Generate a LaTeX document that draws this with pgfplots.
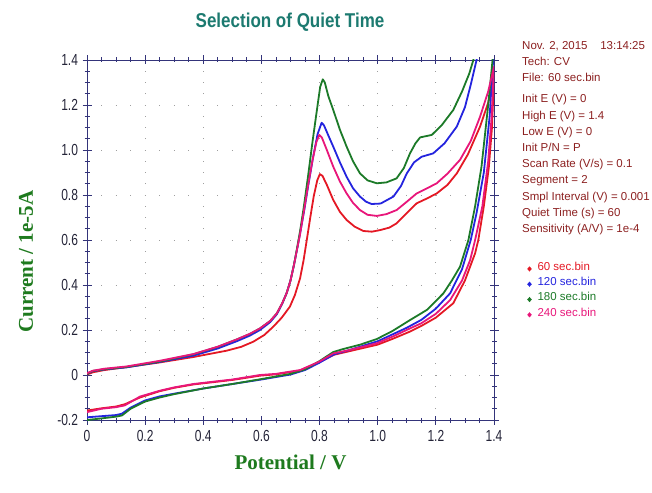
\documentclass[border=0pt]{standalone}
\usepackage{fontspec}
\setmainfont{Liberation Sans}
\newfontfamily\narrowfont[FakeStretch=0.75]{Liberation Sans}
\newfontfamily\titlefont[FakeStretch=0.85]{Liberation Sans}
\newfontfamily\labelfont{Liberation Serif}
\usepackage{pgfplots}
\pgfplotsset{compat=1.18}

\definecolor{c60}{RGB}{228,24,36}
\definecolor{c120}{RGB}{36,36,222}
\definecolor{c180}{RGB}{28,122,40}
\definecolor{c240}{RGB}{232,22,122}
\definecolor{infocol}{RGB}{140,32,32}
\definecolor{titlecol}{RGB}{28,122,112}
\definecolor{labgreen}{RGB}{30,122,30}
\definecolor{axcol}{RGB}{52,52,122}
\definecolor{tickcol}{RGB}{36,36,56}

\begin{document}
\begin{tikzpicture}[x=1pt,y=1pt]
\path[use as bounding box] (0,0) rectangle (652,492);

\begin{axis}[
  at={(87pt,72pt)}, anchor=south west,
  scale only axis, width=407pt, height=360pt,
  xmin=0, xmax=1.4, ymin=-0.2, ymax=1.4,
  xtick={0,0.2,0.4,0.6,0.8,1.0,1.2,1.4},
  xticklabels={0,0.2,0.4,0.6,0.8,1.0,1.2,1.4},
  ytick={-0.2,0,0.2,0.4,0.6,0.8,1.0,1.2,1.4},
  yticklabels={-0.2,0,0.2,0.4,0.6,0.8,1.0,1.2,1.4},
  minor tick num=3,
  tick align=center,
  major tick length=9pt, minor tick length=5pt,
  every tick/.style={axcol, line width=0.8pt},
  axis line style={draw=axcol, line width=0.9pt},
  tick label style={font=\narrowfont\fontsize{16}{18}\selectfont, text=tickcol},
  xticklabel style={yshift=-2pt},
  yticklabel style={xshift=-1pt},
  grid=major,
  major x grid style={gray!75, line width=0.9pt, dash pattern=on 0.9pt off 10.35pt, dash phase=0.45pt},
  major y grid style={gray!75, line width=0.9pt, dash pattern=on 0.9pt off 13.64pt, dash phase=0.45pt},
  xlabel={Potential / V},
  ylabel={Current / 1e-5A},
  xlabel style={font=\labelfont\bfseries\fontsize{21}{24}\selectfont, text=labgreen,
    at={(axis description cs:0.5,-0.117)}, anchor=center},
  ylabel style={font=\labelfont\bfseries\fontsize{21}{24}\selectfont, text=labgreen,
    at={(axis description cs:-0.150,0.44)}, anchor=center, rotate=0},
  every axis plot/.append style={line width=1.8pt, line join=round},
  legend image code/.code={
    \fill[#1, draw=none] (3pt,2.6pt) -- (5.3pt,0pt) -- (3pt,-2.6pt) -- (0.7pt,0pt) -- cycle;
    \path[draw=none, fill=none] (0pt,0pt) rectangle (11pt,0.1pt);},
  legend cell align=left,
  legend style={draw=none, fill=none, at={(axis description cs:1.072,0.447)}, anchor=north west,
    font=\fontsize{11.5}{13}\selectfont, row sep=0pt,
    nodes={inner sep=0pt, text height=9pt, text depth=6.3pt}},
]
% 60 sec
\addplot[c60] coordinates {
(0.000,0.002) (0.020,0.012) (0.060,0.022) (0.136,0.035) (0.251,0.056) (0.366,0.080)
(0.480,0.108) (0.530,0.125) (0.572,0.148) (0.610,0.178) (0.641,0.215) (0.670,0.255)
(0.698,0.304) (0.715,0.355) (0.733,0.430) (0.745,0.510) (0.756,0.600) (0.768,0.700)
(0.780,0.795) (0.792,0.865) (0.801,0.893) (0.810,0.885) (0.825,0.845) (0.847,0.778)
(0.870,0.725) (0.893,0.689) (0.920,0.660) (0.951,0.640) (0.980,0.637) (1.008,0.644)
(1.040,0.655) (1.065,0.674) (1.100,0.720) (1.134,0.763) (1.170,0.785) (1.203,0.807)
(1.240,0.845) (1.272,0.896) (1.310,0.980) (1.352,1.104) (1.380,1.210) (1.400,1.330)
(1.393,1.100) (1.382,0.920) (1.365,0.750) (1.346,0.600) (1.335,0.541) (1.300,0.420)
(1.260,0.319) (1.200,0.255) (1.150,0.218) (1.111,0.193) (1.050,0.160) (1.000,0.135)
(0.900,0.105) (0.850,0.090) (0.800,0.058) (0.733,0.020) (0.650,0.003) (0.595,-0.003)
(0.500,-0.022) (0.366,-0.042) (0.300,-0.057) (0.250,-0.072) (0.182,-0.100) (0.130,-0.130)
(0.100,-0.140) (0.050,-0.148) (0.000,-0.158)
};
\addlegendentry{\textcolor{c60}{60 sec.bin}}
% 120 sec
\addplot[c120] coordinates {
(0.000,0.005) (0.020,0.017) (0.060,0.025) (0.136,0.034) (0.250,0.058) (0.366,0.086)
(0.450,0.118) (0.515,0.150) (0.560,0.175) (0.595,0.200) (0.630,0.235) (0.653,0.270)
(0.672,0.318) (0.687,0.365) (0.700,0.420) (0.712,0.490) (0.722,0.555) (0.733,0.630)
(0.747,0.730) (0.762,0.850) (0.778,0.970) (0.793,1.070) (0.807,1.121) (0.815,1.110)
(0.830,1.065) (0.847,1.015) (0.870,0.945) (0.893,0.881) (0.915,0.830) (0.939,0.793)
(0.960,0.770) (0.979,0.760) (1.010,0.762) (1.054,0.793) (1.080,0.840) (1.100,0.896)
(1.125,0.945) (1.151,0.970) (1.191,0.985) (1.230,1.030) (1.272,1.104) (1.300,1.190)
(1.320,1.290) (1.340,1.400) (1.370,1.620) (1.400,1.900)
(1.397,1.400) (1.385,1.150) (1.365,0.900) (1.340,0.720) (1.320,0.600) (1.290,0.470)
(1.249,0.363) (1.200,0.295) (1.150,0.245) (1.100,0.210) (1.000,0.150) (0.900,0.110)
(0.850,0.092) (0.800,0.055) (0.750,0.022) (0.700,0.002) (0.600,-0.020) (0.500,-0.040)
(0.400,-0.060) (0.300,-0.083) (0.250,-0.095) (0.200,-0.113) (0.150,-0.145) (0.120,-0.172)
(0.100,-0.178) (0.050,-0.183) (0.000,-0.188)
};
\addlegendentry{\textcolor{c120}{120 sec.bin}}
% 180 sec
\addplot[c180] coordinates {
(0.000,0.005) (0.020,0.018) (0.060,0.026) (0.136,0.036) (0.250,0.060) (0.366,0.092)
(0.450,0.125) (0.515,0.158) (0.560,0.182) (0.595,0.207) (0.630,0.240) (0.653,0.274)
(0.672,0.320) (0.687,0.365) (0.700,0.420) (0.712,0.490) (0.722,0.560) (0.733,0.640)
(0.745,0.740) (0.760,0.880) (0.775,1.030) (0.790,1.170) (0.802,1.280) (0.811,1.314)
(0.818,1.300) (0.830,1.240) (0.847,1.178) (0.870,1.090) (0.893,1.015) (0.915,0.950)
(0.939,0.896) (0.965,0.865) (0.997,0.852) (1.030,0.856) (1.065,0.874) (1.090,0.920)
(1.111,0.985) (1.130,1.030) (1.146,1.056) (1.186,1.067) (1.220,1.110) (1.260,1.178)
(1.290,1.260) (1.315,1.340) (1.329,1.400) (1.360,1.600) (1.400,1.900)
(1.395,1.400) (1.380,1.200) (1.357,0.926) (1.335,0.750) (1.312,0.600) (1.283,0.481)
(1.255,0.420) (1.226,0.363) (1.170,0.290) (1.111,0.244) (1.050,0.195) (0.997,0.160)
(0.940,0.135) (0.880,0.115) (0.847,0.102) (0.800,0.062) (0.750,0.025) (0.700,0.005)
(0.600,-0.018) (0.500,-0.040) (0.400,-0.060) (0.300,-0.085) (0.250,-0.100) (0.200,-0.118)
(0.150,-0.150) (0.120,-0.180) (0.100,-0.185) (0.050,-0.193) (0.000,-0.200)
};
\addlegendentry{\textcolor{c180}{180 sec.bin}}
% 240 sec
\addplot[c240] coordinates {
(0.000,0.008) (0.020,0.019) (0.060,0.028) (0.136,0.038) (0.250,0.063) (0.366,0.093)
(0.450,0.126) (0.515,0.158) (0.560,0.183) (0.595,0.207) (0.630,0.240) (0.653,0.274)
(0.672,0.320) (0.687,0.365) (0.700,0.420) (0.712,0.490) (0.722,0.555) (0.732,0.620)
(0.745,0.720) (0.760,0.840) (0.775,0.950) (0.789,1.035) (0.799,1.067) (0.808,1.055)
(0.825,1.000) (0.847,0.926) (0.870,0.860) (0.893,0.807) (0.915,0.765) (0.939,0.733)
(0.965,0.712) (0.997,0.707) (1.030,0.715) (1.065,0.733) (1.100,0.770) (1.134,0.807)
(1.170,0.830) (1.203,0.852) (1.240,0.895) (1.283,0.956) (1.320,1.040) (1.352,1.148)
(1.380,1.260) (1.400,1.370)
(1.392,1.150) (1.380,0.950) (1.360,0.750) (1.335,0.600) (1.318,0.511) (1.290,0.420)
(1.249,0.333) (1.200,0.272) (1.150,0.230) (1.111,0.207) (1.050,0.170) (0.997,0.141)
(0.900,0.110) (0.847,0.096) (0.800,0.060) (0.733,0.022) (0.650,0.005) (0.595,0.000)
(0.500,-0.020) (0.366,-0.040) (0.300,-0.055) (0.250,-0.070) (0.182,-0.096) (0.130,-0.135)
(0.100,-0.143) (0.050,-0.150) (0.000,-0.165)
};
\addlegendentry{\textcolor{c240}{240 sec.bin}}
\end{axis}

\node[font=\titlefont\bfseries\fontsize{20}{22}\selectfont, text=titlecol, anchor=base]
  at (290,492-28) {Selection of Quiet Time};

\node[anchor=north west, align=left, inner sep=0pt, text=infocol,
  font=\fontsize{11.5}{16.2}\selectfont] at (522,492-41)
  {Nov. 2, 2015\hspace{1.1em}13:14:25\\
   Tech: CV\\
   File: 60 sec.bin\\[5pt]
   Init E (V) = 0\\
   High E (V) = 1.4\\
   Low E (V) = 0\\
   Init P/N = P\\
   Scan Rate (V/s) = 0.1\\
   Segment = 2\\
   Smpl Interval (V) = 0.001\\
   Quiet Time (s) = 60\\
   Sensitivity (A/V) = 1e-4};
\end{tikzpicture}
\end{document}
